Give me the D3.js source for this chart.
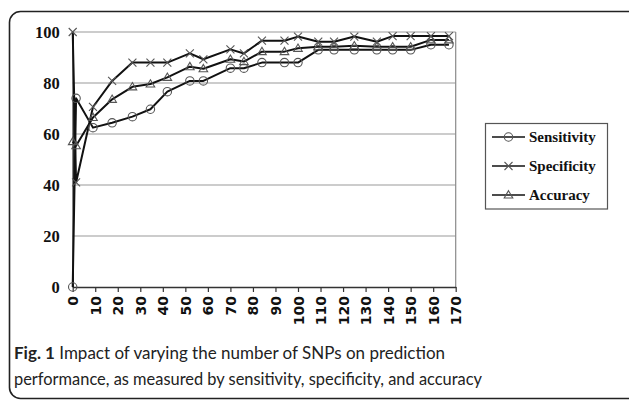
<!DOCTYPE html>
<html>
<head>
<meta charset="utf-8">
<script src="https://cdn.jsdelivr.net/npm/d3@7"></script>
<style>
  html, body { margin: 0; padding: 0; background: #fff; }
  svg { display: block; }
</style>
</head>
<body>
<svg id="chart" width="629" height="400"></svg>
<script>
// ---- data ----
const snpCounts   = [0, 1.5, 9, 17.5, 26.5, 34.5, 42, 52, 58, 70, 76, 84, 94, 100, 109, 116, 125, 135, 142, 150, 159, 167];
const sensitivity = [0, 74, 62.5, 64.4, 66.8, 69.7, 76.6, 80.8, 80.8, 85.8, 85.8, 88, 88, 88, 93, 93, 93, 93, 93, 93, 95, 95];
const specificity = [100, 41, 70.6, 80.8, 88, 88, 88, 91.6, 89.3, 93.2, 91.6, 96.6, 96.6, 98.2, 96.2, 96.2, 98.2, 96.2, 98.4, 98.4, 98.4, 98.4];
const accuracy    = [57, 55.4, 66.5, 73.6, 78.5, 79.6, 82.2, 86.4, 85.6, 89.3, 88.4, 92.3, 92.3, 93.6, 94.2, 94.2, 94.6, 94.2, 94.2, 94.2, 96.9, 96.9];
const seriesNames = ["Sensitivity", "Specificity", "Accuracy"];
const xTickLabels = [0, 10, 20, 30, 40, 50, 60, 70, 80, 90, 100, 110, 120, 130, 140, 150, 160, 170];
const yTickLabels = [0, 20, 40, 60, 80, 100];

const SERIF = "Liberation Serif";
const svg = d3.select("#chart");

// figure frame (rounded)
svg.append("rect")
  .attr("x", 9.5).attr("y", 11.5).attr("width", 650).attr("height", 387)
  .attr("rx", 11).attr("ry", 11)
  .attr("fill", "#fff").attr("stroke", "#222").attr("stroke-width", 1.6);

const plot = { left: 72.7, right: 455.7, top: 32, bottom: 287 };
const x = d3.scaleLinear().domain([0, 170]).range([plot.left, plot.right]);
const y = d3.scaleLinear().domain([0, 100]).range([plot.bottom, plot.top]);

// gridlines
svg.append("g").selectAll("line").data(yTickLabels.filter(d => d > 0)).join("line")
  .attr("x1", plot.left).attr("x2", plot.right)
  .attr("y1", d => y(d)).attr("y2", d => y(d))
  .attr("stroke", "#9a9a9a").attr("stroke-width", 1.2);
// right border of plot area
svg.append("line")
  .attr("x1", plot.right).attr("x2", plot.right)
  .attr("y1", plot.top).attr("y2", plot.bottom)
  .attr("stroke", "#8a8a8a").attr("stroke-width", 1.2);

// x axis
const xAxis = d3.axisBottom(x).tickValues(xTickLabels).tickSize(5).tickSizeOuter(0).tickFormat(d3.format("d"));
const gx = svg.append("g").attr("transform", `translate(0,${plot.bottom})`).call(xAxis);
gx.select(".domain").attr("stroke", "#333").attr("stroke-width", 1.3);
gx.selectAll(".tick line").attr("stroke", "#333").attr("stroke-width", 1.2);
gx.selectAll(".tick text")
  .attr("font-family", "DejaVu Sans").attr("font-weight", "bold")
  .attr("font-size", 14).attr("fill", "#111")
  .attr("transform", "rotate(-90)")
  .attr("x", -9).attr("y", 0).attr("dy", "0.36em")
  .attr("text-anchor", "end");

// y axis
const yAxis = d3.axisLeft(y).tickValues(yTickLabels).tickSize(0).tickFormat(d3.format("d"));
const gy = svg.append("g").attr("transform", `translate(${plot.left},0)`).call(yAxis);
gy.select(".domain").attr("stroke", "#222").attr("stroke-width", 1.5);
gy.selectAll(".tick text")
  .attr("font-family", SERIF).attr("font-weight", "bold")
  .attr("font-size", 16.5).attr("fill", "#111").attr("x", -13).attr("dy", "0.34em");

// series
const valueSets = [sensitivity, specificity, accuracy];
const markerKinds = ["circle", "cross", "triangle"];
const line = d3.line().x(d => x(d[0])).y(d => y(d[1]));

function drawMarker(g, kind, cx, cy) {
  const col = "#555";
  if (kind === "circle") {
    g.append("circle").attr("cx", cx).attr("cy", cy).attr("r", 4.2)
      .attr("fill", "none").attr("stroke", col).attr("stroke-width", 1.1);
  } else if (kind === "cross") {
    const s = 4;
    g.append("path").attr("d", `M${cx - s},${cy - s}L${cx + s},${cy + s}M${cx - s},${cy + s}L${cx + s},${cy - s}`)
      .attr("stroke", col).attr("stroke-width", 1.1).attr("fill", "none");
  } else {
    const s = 4.3;
    g.append("path").attr("d", `M${cx},${cy - s}L${cx + s},${cy + s * 0.7}L${cx - s},${cy + s * 0.7}Z`)
      .attr("stroke", col).attr("stroke-width", 1.1).attr("fill", "none");
  }
}

valueSets.forEach((vals, i) => {
  const pts = snpCounts.map((c, j) => [c, vals[j]]);
  svg.append("path").datum(pts).attr("d", line)
    .attr("fill", "none").attr("stroke", "#111").attr("stroke-width", 2).attr("stroke-linejoin", "round");
});
valueSets.forEach((vals, i) => {
  const g = svg.append("g");
  snpCounts.forEach((c, j) => drawMarker(g, markerKinds[i], x(c), y(vals[j])));
});

// legend
const lg = svg.append("g");
lg.append("rect").attr("x", 485.5).attr("y", 123.5).attr("width", 122).attr("height", 85.5)
  .attr("fill", "#fff").attr("stroke", "#555").attr("stroke-width", 1.2);
seriesNames.forEach((name, i) => {
  const cy = 137 + i * 29;
  lg.append("line").attr("x1", 492).attr("x2", 525).attr("y1", cy).attr("y2", cy)
    .attr("stroke", "#111").attr("stroke-width", 1.6);
  drawMarker(lg, markerKinds[i], 508.5, cy);
  lg.append("text").attr("x", 529).attr("y", cy).attr("dy", "0.35em")
    .attr("font-family", SERIF).attr("font-weight", "bold")
    .attr("font-size", 15).attr("fill", "#111").text(name);
});

// caption
const cap = svg.append("g").attr("font-family", "Lato").attr("font-size", 17).attr("fill", "#222");
const t1 = cap.append("text").attr("x", 14).attr("y", 359).attr("textLength", 431).attr("lengthAdjust", "spacingAndGlyphs");
t1.append("tspan").attr("font-weight", "bold").text("Fig. 1");
t1.append("tspan").text(" Impact of varying the number of SNPs on prediction");
cap.append("text").attr("x", 14).attr("y", 385).attr("textLength", 468).attr("lengthAdjust", "spacingAndGlyphs")
  .text("performance, as measured by sensitivity, specificity, and accuracy");
</script>
</body>
</html>
